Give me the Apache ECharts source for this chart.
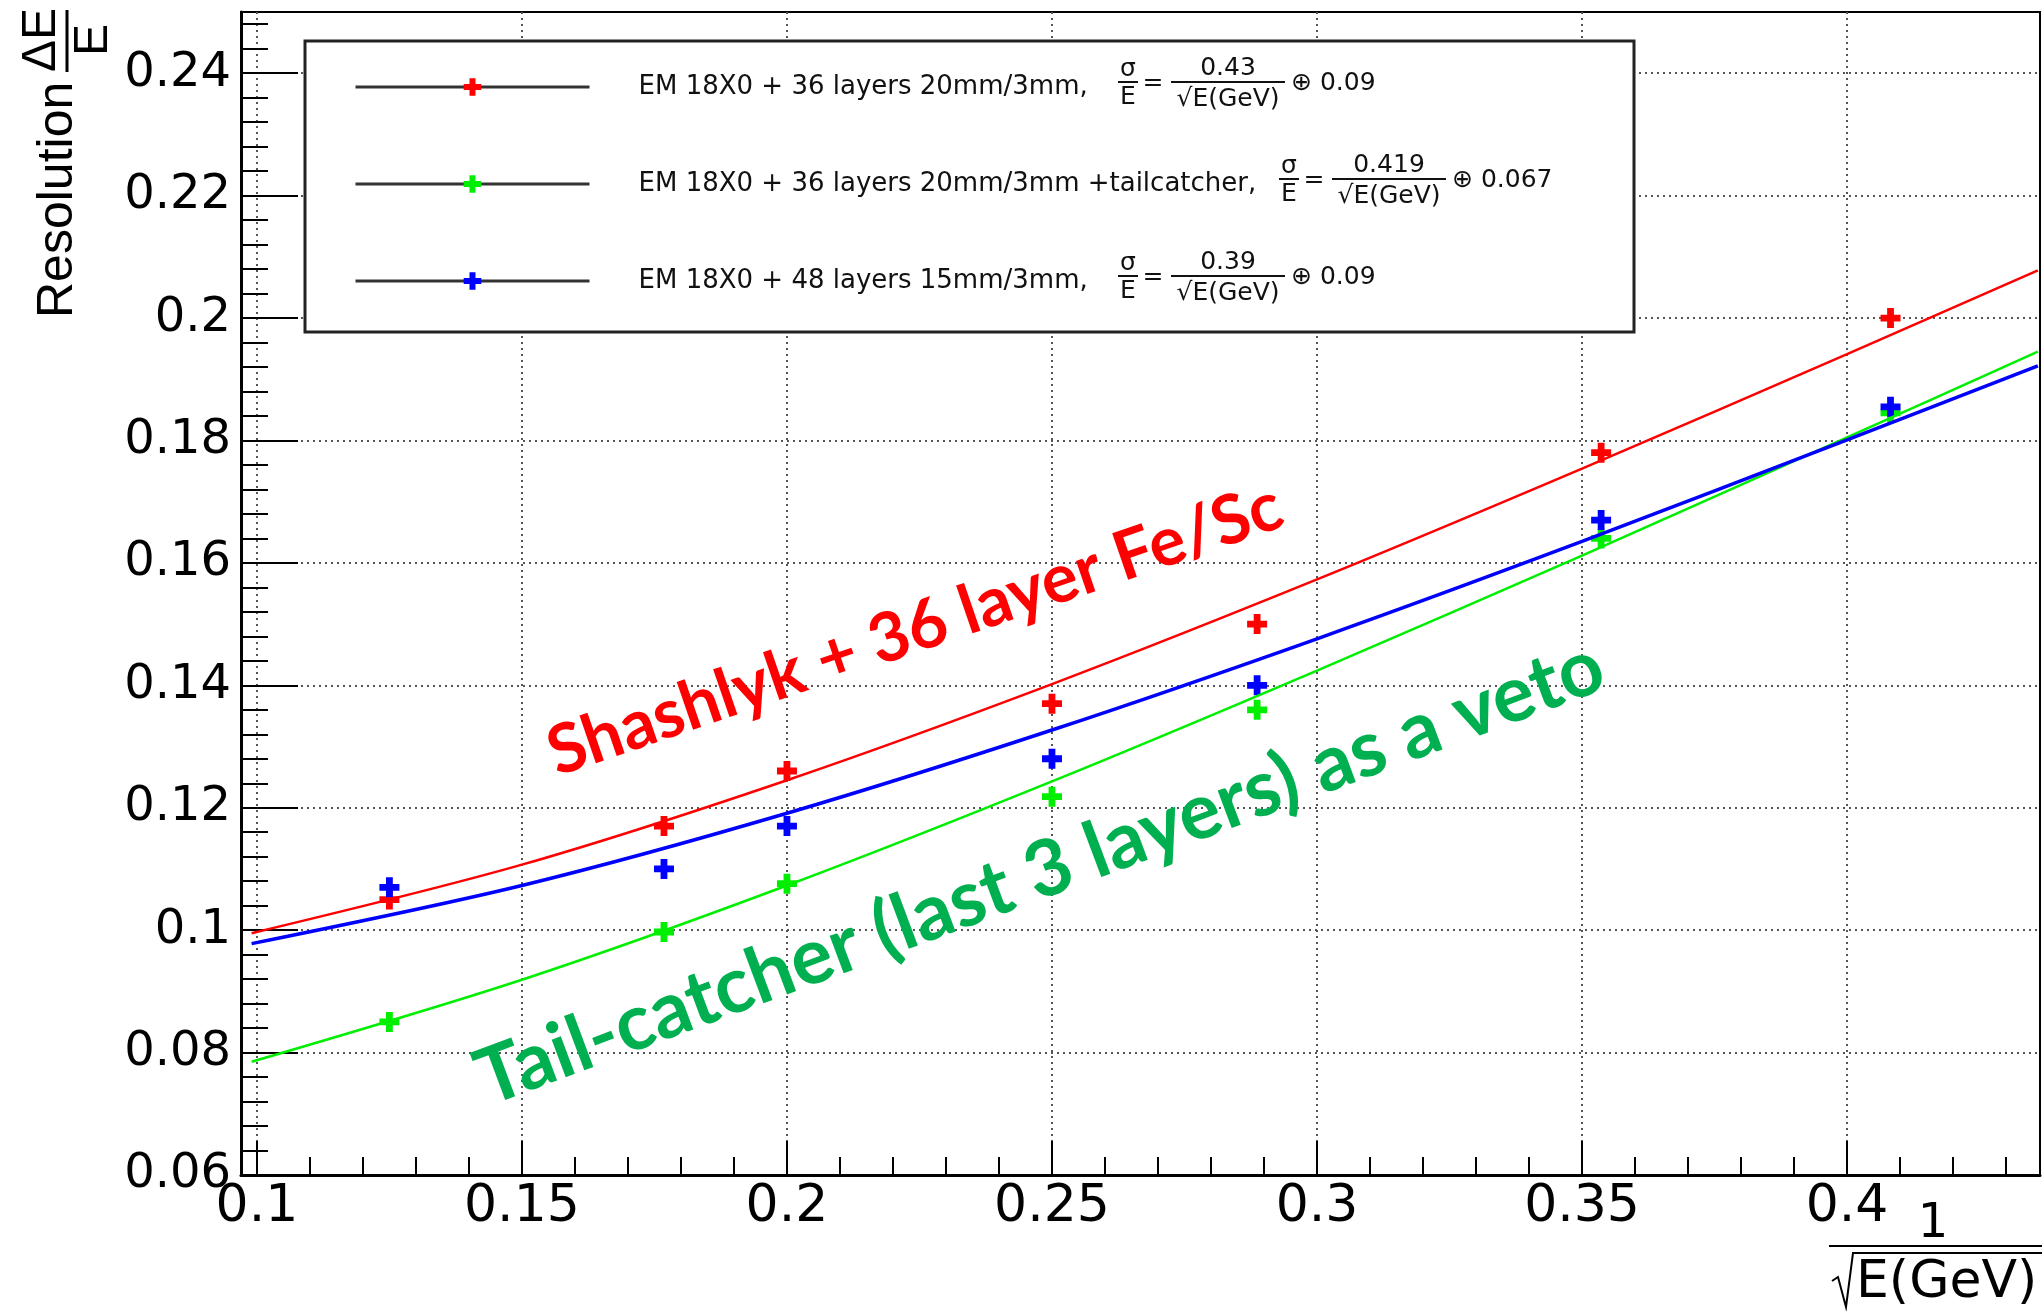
<!DOCTYPE html>
<html>
<head>
<meta charset="utf-8">
<title>Resolution vs 1/sqrt(E)</title>
<style>
    html, body { margin: 0; padding: 0; background: #fff; }
    #page { width: 2042px; height: 1311px; }
</style>
</head>
<body>
<div id="page"></div>
<script src="https://cdn.jsdelivr.net/npm/echarts@6/dist/echarts.min.js"></script>
<script>
    // axis ticks
    var xMajor = [0.1, 0.15, 0.2, 0.25, 0.3, 0.35, 0.4];
    var yMajor = [0.06, 0.08, 0.1, 0.12, 0.14, 0.16, 0.18, 0.2, 0.22, 0.24];
    var xMinor = [];
    for (var i = 10; i <= 43; i++) xMinor.push(i / 100);
    var yMinor = [];
    for (var j = 0; j < 48; j++) yMinor.push((60 + 4 * j) / 1000);

    // measured points, x = 1/sqrt(E)
    var ptX = [0.125, 0.1768, 0.2, 0.25, 0.2887, 0.3536, 0.4082];
    var ptRed = [0.105, 0.117, 0.126, 0.137, 0.150, 0.178, 0.200];
    var ptGreen = [0.085, 0.0997, 0.1076, 0.1218, 0.136, 0.164, 0.1845];
    var ptBlue = [0.107, 0.110, 0.117, 0.128, 0.140, 0.167, 0.1855];

    // fitted curves
    var fitX = [0.099, 0.15, 0.2, 0.25, 0.3, 0.35, 0.4, 0.436];
    var fitRed = [0.0995, 0.1107, 0.1245, 0.1402, 0.1573, 0.1754, 0.1941, 0.2078];
    var fitGreen = [0.0785, 0.0919, 0.1073, 0.1243, 0.1424, 0.1612, 0.1805, 0.1945];
    var fitBlue = [0.0978, 0.1073, 0.1191, 0.1327, 0.1476, 0.1635, 0.1801, 0.1922];

    var names = [
        'EM 18X0 + 36 layers 20mm/3mm,',
        'EM 18X0 + 36 layers 20mm/3mm +tailcatcher,',
        'EM 18X0 + 48 layers 15mm/3mm,'
    ];
    var stochTerm = ['0.43', '0.419', '0.39'];
    var constTerm = ['0.09', '0.067', '0.09'];
    var colors = ['#ff0000', '#00ee00', '#0000ff'];

    var plus = 'path://M3.3,0H6.7V3.3H10V6.7H6.7V10H3.3V6.7H0V3.3H3.3Z';
    var txtFont = '"DejaVu Sans", sans-serif';

    function pairs(xs, ys) {
        return xs.map(function (x, k) { return [x, ys[k]]; });
    }

    // sigma/E = a/sqrt(E) (+) b, drawn next to each legend row
    function formula(k, sx, yc) {
        var f = '25px ' + txtFont;
        return {
            type: 'group', x: sx, y: yc, z: 11,
            children: [
                {type: 'text', x: 0, y: -14, z: 11, style: {text: 'σ', font: f, fill: '#111', align: 'center', verticalAlign: 'middle'}},
                {type: 'line', z: 11, shape: {x1: -10, y1: -1, x2: 10, y2: -1}, style: {stroke: '#111', lineWidth: 2}},
                {type: 'text', x: 0, y: 14, z: 11, style: {text: 'E', font: f, fill: '#111', align: 'center', verticalAlign: 'middle'}},
                {type: 'text', x: 25, y: 0, z: 11, style: {text: '=', font: f, fill: '#111', align: 'center', verticalAlign: 'middle'}},
                {type: 'text', x: 100, y: -15, z: 11, style: {text: stochTerm[k], font: f, fill: '#111', align: 'center', verticalAlign: 'middle'}},
                {type: 'line', z: 11, shape: {x1: 43, y1: -1, x2: 157, y2: -1}, style: {stroke: '#111', lineWidth: 2}},
                {type: 'text', x: 100, y: 16, z: 11, style: {text: '√E(GeV)', font: f, fill: '#111', align: 'center', verticalAlign: 'middle'}},
                {type: 'text', x: 163, y: 0, z: 11, style: {text: '⊕ ' + constTerm[k], font: f, fill: '#111', align: 'left', verticalAlign: 'middle'}}
            ]
        };
    }

    var chart = echarts.init(document.getElementById('page'));

    var series = [];
    [ptRed, ptGreen, ptBlue].forEach(function (ys, k) {
        series.push({
            name: names[k],
            type: 'line',
            data: pairs(ptX, ys),
            symbol: plus,
            symbolSize: 20,
            showSymbol: true,
            lineStyle: {width: 0, opacity: 0},
            itemStyle: {color: colors[k]},
            z: 3
        });
    });
    [fitRed, fitGreen, fitBlue].forEach(function (ys, k) {
        series.push({
            name: 'fit ' + k,
            type: 'line',
            data: pairs(fitX, ys),
            smooth: 0.3,
            symbol: 'none',
            lineStyle: {color: colors[k], width: k === 2 ? 3.5 : 2.5},
            z: 4,
            silent: true
        });
    });

    var option = {
        animation: false,
        backgroundColor: '#fff',
        grid: {
            left: 241, right: 2, top: 12, bottom: 136,
            show: true, borderColor: '#000', borderWidth: 2
        },
        xAxis: [{
            type: 'value', min: 0.097, max: 0.4364,
            axisLine: {lineStyle: {color: '#000', width: 3}},
            axisTick: {inside: true, length: 34, customValues: xMajor, lineStyle: {color: '#000', width: 2}},
            axisLabel: {customValues: xMajor, color: '#000', fontSize: 52, fontFamily: txtFont, margin: 6},
            splitLine: {show: true, lineStyle: {color: '#555', width: 2, type: [2, 4]}}
        }, {
            type: 'value', min: 0.097, max: 0.4364, position: 'bottom',
            axisLine: {show: false},
            axisTick: {inside: true, length: 18, customValues: xMinor, lineStyle: {color: '#000', width: 2}},
            axisLabel: {show: false},
            splitLine: {show: false}
        }],
        yAxis: [{
            type: 'value', min: 0.06, max: 0.25,
            axisLine: {show: true, lineStyle: {color: '#000', width: 3}},
            axisTick: {show: true, inside: true, length: 57, customValues: yMajor, lineStyle: {color: '#000', width: 2}},
            axisLabel: {customValues: yMajor, color: '#000', fontSize: 48, fontFamily: txtFont, margin: 10},
            splitLine: {show: true, lineStyle: {color: '#555', width: 2, type: [2, 4]}}
        }, {
            type: 'value', min: 0.06, max: 0.25, position: 'left',
            axisLine: {show: false},
            axisTick: {show: true, inside: true, length: 27, customValues: yMinor, lineStyle: {color: '#000', width: 2}},
            axisLabel: {show: false},
            splitLine: {show: false}
        }],
        legend: {
            left: 354, top: 72, orient: 'vertical', padding: 0,
            itemGap: 67, itemWidth: 234, itemHeight: 22,
            selectedMode: false, z: 10,
            textStyle: {fontFamily: txtFont, fontSize: 26, color: '#111', lineHeight: 30, padding: [0, 0, 0, 44]},
            data: names.map(function (n) {
                return {name: n, lineStyle: {color: '#333', width: 3, opacity: 1}};
            })
        },
        graphic: [
            // legend frame
            {type: 'rect', z: 5, shape: {x: 305, y: 41, width: 1329, height: 291},
                style: {fill: '#fff', stroke: '#222', lineWidth: 3}},
            formula(0, 1128, 83),
            formula(1, 1289, 180),
            formula(2, 1128, 277),
            // y title: Resolution dE/E
            {
                type: 'group', x: 58, y: 318, rotation: Math.PI / 2, z: 11,
                children: [
                    {type: 'text', x: 0, y: 0, style: {text: 'Resolution', font: '50px "Liberation Sans", sans-serif', fill: '#000', align: 'left', verticalAlign: 'middle'}},
                    {type: 'text', x: 278, y: -16, style: {text: 'ΔE', font: '48px "Liberation Sans", sans-serif', fill: '#000', align: 'center', verticalAlign: 'middle'}},
                    {type: 'line', shape: {x1: 246, y1: 9, x2: 308, y2: 9}, style: {stroke: '#000', lineWidth: 3}},
                    {type: 'text', x: 278, y: 36, style: {text: 'E', font: '48px "Liberation Sans", sans-serif', fill: '#000', align: 'center', verticalAlign: 'middle'}}
                ]
            },
            // x title: 1 / sqrt(E(GeV))
            {type: 'text', x: 1933, y: 1225, z: 11, style: {text: '1', font: '48px ' + txtFont, fill: '#000', align: 'center', verticalAlign: 'middle'}},
            {type: 'line', z: 11, shape: {x1: 1829, y1: 1246, x2: 2042, y2: 1246}, style: {stroke: '#000', lineWidth: 2}},
            {type: 'polyline', z: 11, shape: {points: [[1832, 1281], [1838, 1277], [1846, 1307], [1853, 1253], [2042, 1253]]},
                style: {stroke: '#000', lineWidth: 2, fill: null}},
            {type: 'text', x: 1856, y: 1283, z: 11, style: {text: 'E(GeV)', font: '52px ' + txtFont, fill: '#000', align: 'left', verticalAlign: 'middle'}},
            // annotations
            {type: 'text', x: 915, y: 630, rotation: 19 * Math.PI / 180, z: 20,
                style: {text: 'Shashlyk + 36 layer Fe/Sc', font: 'bold 68px Lato, sans-serif', fill: '#ff0000', align: 'center', verticalAlign: 'middle'}},
            {type: 'text', x: 1040, y: 873, rotation: 20.5 * Math.PI / 180, z: 20,
                style: {text: 'Tail-catcher (last 3 layers) as a veto', font: 'bold 78px Lato, sans-serif', fill: '#00b050', align: 'center', verticalAlign: 'middle'}}
        ],
        series: series
    };
    chart.setOption(option);
</script>
</body>
</html>
